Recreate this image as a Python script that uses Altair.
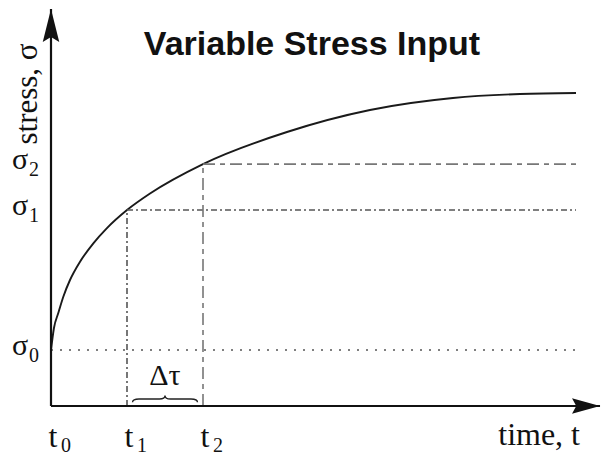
import altair as alt
import pandas as pd

# ---- data (time in units of the t1 step, stress in arbitrary units) ----
curve_t = [0.0, 0.039, 0.096, 0.162, 0.25, 0.382, 0.557, 0.733, 1.0, 1.303, 2.0, 3.105, 4.197, 5.289, 6.171, 6.908]
curve_s = [1.0, 1.393, 1.661, 1.952, 2.25, 2.577, 2.905, 3.173, 3.5, 3.795, 4.32, 4.893, 5.286, 5.5, 5.571, 5.589]

t_marks = [0.0, 1.0, 2.0]
t_subs = ["0", "1", "2"]
sigma_levels = [1.0, 3.5, 4.32]
sigma_subs = ["0", "1", "2"]
t_end = 6.908
x_tip = 7.224
y_tip = 7.089

title_text = "Variable Stress Input"
x_label = "time, t"
y_label = "stress, σ"
delta_label = "Δτ"

SERIF = "Liberation Serif"
xs = alt.Scale(domain=[0, 7.2368], nice=False, zero=False)
ys = alt.Scale(domain=[0, 6.0], nice=False, zero=False)

def X(f="t"):
    return alt.X(f"{f}:Q", scale=xs, axis=None)

def Y(f="s"):
    return alt.Y(f"{f}:Q", scale=ys, axis=None)

curve_df = pd.DataFrame({"t": curve_t, "s": curve_s})
curve = alt.Chart(curve_df).mark_line(color="#1a1a1a", strokeWidth=1.9, interpolate="monotone").encode(x=X(), y=Y())

# reference lines
h_df = pd.DataFrame({"t": [t_marks[0], t_marks[1], t_marks[2]], "t2": [t_end] * 3, "s": sigma_levels, "k": ["a", "b", "c"]})
v_df = pd.DataFrame({"t": [t_marks[1], t_marks[2]], "s": [0.0, 0.0], "s2": [sigma_levels[1], sigma_levels[2]], "k": ["b", "c"]})

dash = {"a": [2, 7], "b": [6, 3, 2, 3], "c": [12, 5, 5, 5]}
col = {"a": "#555555", "b": "#555555", "c": "#777777"}

layers = [curve]
for k in ["a", "b", "c"]:
    layers.append(alt.Chart(h_df[h_df.k == k]).mark_rule(strokeDash=dash[k], color=col[k], strokeWidth=1.6).encode(
        x=X(), x2="t2:Q", y=Y()))
for k in ["b", "c"]:
    layers.append(alt.Chart(v_df[v_df.k == k]).mark_rule(strokeDash=dash[k], color=col[k], strokeWidth=1.6).encode(
        x=X(), y=Y(), y2="s2:Q"))

# axes
ax_df = pd.DataFrame({"t": [0.0], "t2": [x_tip], "s": [0.0], "s2": [y_tip]})
layers.append(alt.Chart(ax_df).mark_rule(color="#111111", strokeWidth=2.2).encode(x=X(), x2="t2:Q", y=Y()))
layers.append(alt.Chart(ax_df).mark_rule(color="#111111", strokeWidth=2.2).encode(x=X(), y=Y(), y2="s2:Q"))

up_arrow = "M0,0 L0.5,2 L0,1.7 L-0.5,2 Z"
right_arrow = "M0,0 L-2,-0.55 L-1.7,0 L-2,0.55 Z"
layers.append(alt.Chart(pd.DataFrame({"t": [0.0], "s": [y_tip]})).mark_point(
    shape=up_arrow, size=1089, filled=True, color="#111111", opacity=1).encode(x=X(), y=Y()))
layers.append(alt.Chart(pd.DataFrame({"t": [x_tip], "s": [0.0]})).mark_point(
    shape=right_arrow, size=784, filled=True, color="#111111", opacity=1).encode(x=X(), y=Y()))

# sigma labels
sig_df = pd.DataFrame({"s": sigma_levels, "sub": sigma_subs, "base": ["σ"] * 3})
layers.append(alt.Chart(sig_df).mark_text(font=SERIF, fontSize=30, align="center", baseline="alphabetic", dy=5, color="#111111").encode(
    x=alt.value(-31), y=Y(), text="base:N"))
layers.append(alt.Chart(sig_df).mark_text(font=SERIF, fontSize=20, align="left", baseline="alphabetic", dy=12, color="#111111").encode(
    x=alt.value(-22), y=Y(), text="sub:N"))

# t labels
t_df = pd.DataFrame({"t": t_marks, "sub": t_subs, "base": ["t"] * 3})
layers.append(alt.Chart(t_df).mark_text(font=SERIF, fontSize=32, align="center", baseline="alphabetic", dx=2, color="#111111").encode(
    x=X(), y=alt.value(377), text="base:N"))
layers.append(alt.Chart(t_df).mark_text(font=SERIF, fontSize=20, align="left", baseline="alphabetic", dx=10, color="#111111").encode(
    x=X(), y=alt.value(382), text="sub:N"))

# delta tau and brace
mid_df = pd.DataFrame({"t": [(t_marks[1] + t_marks[2]) / 2], "lab": [delta_label]})
layers.append(alt.Chart(mid_df).mark_text(font=SERIF, fontSize=30, align="center", baseline="alphabetic", color="#111111").encode(
    x=X(), y=alt.value(315), text="lab:N"))
brace = "M-1,0.1 Q-1,0 -0.8,0 L-0.17,0 Q0,0 0,-0.11 Q0,0 0.17,0 L0.8,0 Q1,0 1,0.1"
layers.append(alt.Chart(mid_df).mark_point(shape=brace, size=4225, filled=False, color="#222222", strokeWidth=1.4, opacity=1).encode(
    x=X(), y=alt.value(329)))

# axis labels and title
layers.append(alt.Chart(pd.DataFrame({"lab": [x_label]})).mark_text(font=SERIF, fontSize=32, align="right", baseline="alphabetic", color="#111111").encode(
    x=alt.value(529), y=alt.value(375), text="lab:N"))
layers.append(alt.Chart(pd.DataFrame({"lab": [y_label]})).mark_text(font=SERIF, fontSize=31, align="center", baseline="alphabetic", angle=270, color="#111111").encode(
    x=alt.value(-14), y=alt.value(24), text="lab:N"))
layers.append(alt.Chart(pd.DataFrame({"lab": [title_text]})).mark_text(font="Liberation Sans", fontSize=34, fontWeight="bold", align="center", baseline="alphabetic", color="#111111").encode(
    x=alt.value(261), y=alt.value(-15), text="lab:N"))

chart = alt.layer(*layers).properties(
    width=550, height=336,
    padding={"left": 43, "top": 62, "right": 0, "bottom": 50},
    autosize=alt.AutoSizeParams(type="none"),
).configure_view(stroke=None)

chart.save("out.html", embed_options={"renderer": "svg", "actions": False})
